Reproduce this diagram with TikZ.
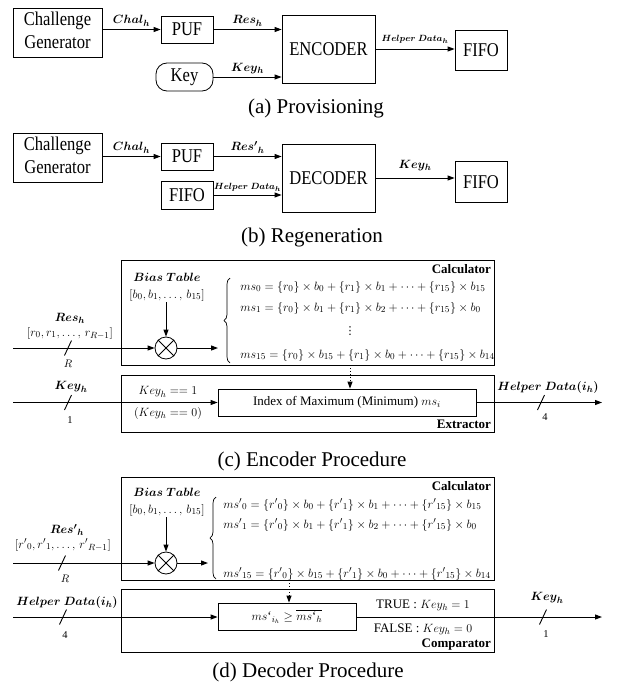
\documentclass[tikz,border=0pt]{standalone}
\usepackage{amsmath}
\usepackage{bm}
\usepackage{graphicx}
\usepackage{fontspec}
\setmainfont{Liberation Serif}
\newfontfamily\symfont{DejaVu Sans}
\usetikzlibrary{arrows.meta,decorations.pathreplacing}
% narrow the lettering of the block labels a little
\newcommand\sqz[1]{\scalebox{0.85}[1]{#1}}
\begin{document}
\begin{tikzpicture}[x=1pt,y=-1pt,line width=0.8pt,
  box/.style={draw,line width=0.8pt,inner sep=0pt,align=center,font=\fontsize{19.5}{22.5}\selectfont},
  framebox/.style={draw,line width=0.8pt,inner sep=0pt},
  inbox/.style={draw,line width=0.8pt,inner sep=0pt,font=\fontsize{13}{15}\selectfont},
  arr/.style={-{Triangle[length=7pt,width=5pt]},line width=1pt},
  dotarr/.style={arr,dotted},
  lab/.style={font=\fontsize{13}{15}\selectfont,inner sep=1pt},
  tinylab/.style={font=\fontsize{9.5}{11}\selectfont,inner sep=1pt},
  sml/.style={font=\fontsize{10.5}{12}\selectfont,inner sep=1pt},
  captxt/.style={font=\fontsize{21}{24}\selectfont},
  eq/.style={font=\fontsize{13}{15}\selectfont,anchor=west,inner sep=0pt},
  ttl/.style={font=\bfseries\fontsize{13}{15}\selectfont,inner sep=0pt},
  bracedec/.style={decorate,decoration={brace,amplitude=6pt},line width=0.7pt},
  busmark/.pic={\draw[line width=0.9pt] (-3.5,7.5) -- (3.5,-7.5);}
]
\useasboundingbox (0,0) rectangle (616,696);

% ---------------- (a) provisioning ----------------
\node[box,minimum width=89pt,minimum height=49pt] (cgA) at (57.5,32.5)
  {\sqz{\begin{tabular}{@{}c@{}}Challenge\\Generator\end{tabular}}};
\node[box,minimum width=52pt,minimum height=27pt] (pufA) at (187,29.5) {\sqz{PUF}};
\node[box,minimum width=57pt,minimum height=28pt,rounded corners=11pt] (keyA) at (184.5,77) {\sqz{Key}};
\node[box,minimum width=93pt,minimum height=68pt] (encA) at (328.5,49) {\sqz{ENCODER}};
\node[box,minimum width=52pt,minimum height=40pt] (fifoA) at (481,50) {\sqz{FIFO}};

\draw[arr] (cgA.east |- pufA.west) -- node[lab,above=2pt] {$\bm{Chal_h}$} (pufA.west);
\draw[arr] (pufA.east) -- node[lab,above=2pt] {$\bm{Res_h}$} (pufA.east -| encA.west);
\draw[arr] (keyA.east) -- node[lab,above=2pt] {$\bm{Key_h}$} (keyA.east -| encA.west);
\draw[arr] (encA.east) -- node[tinylab,above=4pt] {$\bm{Helper\ Data_h}$} (encA.east -| fifoA.west);

\node[captxt] (capA) at (316,108) {(a) Provisioning};

% ---------------- (b) regeneration ----------------
\node[box,minimum width=89pt,minimum height=49pt] (cgB) at (57.5,157.5)
  {\sqz{\begin{tabular}{@{}c@{}}Challenge\\Generator\end{tabular}}};
\node[box,minimum width=52pt,minimum height=27pt] (pufB) at (187,156.5) {\sqz{PUF}};
\node[box,minimum width=52pt,minimum height=28pt] (fifoB) at (187,195) {\sqz{FIFO}};
\node[box,minimum width=93pt,minimum height=68pt] (decB) at (328.5,178) {\sqz{DECODER}};
\node[box,minimum width=52pt,minimum height=41pt] (fifoC) at (481,182) {\sqz{FIFO}};

\draw[arr] (cgB.east |- pufB.west) -- node[lab,above=2pt] {$\bm{Chal_h}$} (pufB.west);
\draw[arr] (pufB.east) -- node[lab,above=2pt] {$\bm{{Res'}_h}$} (pufB.east -| decB.west);
\draw[arr] (fifoB.east) -- node[tinylab,above=2pt] {$\bm{Helper\ Data_h}$} (fifoB.east -| decB.west);
\draw[arr] (decB.east) -- node[lab,above=6pt] {$\bm{Key_h}$} (decB.east -| fifoC.west);

\node[captxt] (capB) at (312,237) {(b) Regeneration};

% ---------------- (c) encoder procedure ----------------
\node[framebox,minimum width=373pt,minimum height=105pt] (calcC) at (307.5,312.5) {};
\node[ttl,anchor=north east] (calcCt) at ([xshift=-3pt,yshift=-4pt]calcC.north east) {Calculator};
\node[lab] (btC) at (167,277) {$\bm{Bias\ Table}$};
\node[lab] (blC) at (167,295) {$[b_0,b_1,\ldots,\,b_{15}]$};
\node[circle,draw,line width=0.8pt,minimum size=22pt,inner sep=0pt] (otC) at (166,348) {};
\draw (otC.45) -- (otC.225) (otC.135) -- (otC.315);
\draw[arr] (otC.north |- blC.south) -- (otC.north);

\coordinate (inR) at (13,348);
\draw[arr] (inR) -- (otC.west);
\pic at (68,348) {busmark};
\node[lab] (resC) at (70,318) {$\bm{Res_h}$};
\node[lab] (rlC) at (70,333) {$[r_0,r_1,\ldots,\,r_{R-1}]$};
\node[sml] (rC) at (68,364) {$R$};

\coordinate (brC) at (218,348);
\draw[arr] (otC.east) -- (brC);
\draw[bracedec] (230,363) -- (230,278);
\node[eq] (e0C) at (240,287) {$ms_0=\{r_0\}\times b_0+\{r_1\}\times b_1+\cdots+\{r_{15}\}\times b_{15}$};
\node[eq] (e1C) at (240,308) {$ms_1=\{r_0\}\times b_1+\{r_1\}\times b_2+\cdots+\{r_{15}\}\times b_0$};
\node[inner sep=0pt,font=\symfont\fontsize{11}{13}\selectfont] (vdC) at (350,331) {⋮};
\node[eq] (e2C) at (240,355) {$ms_{15}=\{r_0\}\times b_{15}+\{r_1\}\times b_0+\cdots+\{r_{15}\}\times b_{14}$};

\node[framebox,minimum width=373pt,minimum height=57pt] (extC) at (307.5,403.5) {};
\node[ttl,anchor=south east] (extCt) at ([xshift=-3pt,yshift=3pt]extC.south east) {Extractor};
\node[inbox,minimum width=258pt,minimum height=27pt] (idxC) at (347,402.5) {Index of Maximum (Minimum) $ms_i$};
\coordinate (dotC) at (350,0);
\draw[dotarr] (calcC.south -| dotC) -- (idxC.north -| dotC);

\coordinate (inK) at (13,402.5);
\draw[arr] (inK) -- (inK -| idxC.west);
\pic at (68,402.5) {busmark};
\node[lab] (keyC) at (71,387) {$\bm{Key_h}$};
\node[sml] (oneC) at (70,420) {1};
\node[lab] (k1C) at (168,392) {$Key_h==1$};
\node[lab] (k0C) at (168,413) {$(Key_h==0)$};

\coordinate (outC) at (602,402.5);
\draw[arr] (idxC.east) -- (outC);
\pic at (541,402.5) {busmark};
\node[lab] (hdC) at (548,387) {$\bm{Helper\ Data(i_h)}$};
\node[sml] (fourC) at (545,417) {4};

\node[captxt] (capC) at (312,461) {(c) Encoder Procedure};

% ---------------- (d) decoder procedure ----------------
\node[framebox,minimum width=373pt,minimum height=103pt] (calcD) at (307.5,528.5) {};
\node[ttl,anchor=north east] (calcDt) at ([xshift=-3pt,yshift=-4pt]calcD.north east) {Calculator};
\node[lab] (btD) at (167,492) {$\bm{Bias\ Table}$};
\node[lab] (blD) at (167,510) {$[b_0,b_1,\ldots,\,b_{15}]$};
\node[circle,draw,line width=0.8pt,minimum size=22pt,inner sep=0pt] (otD) at (166,563) {};
\draw (otD.45) -- (otD.225) (otD.135) -- (otD.315);
\draw[arr] (otD.north |- blD.south) -- (otD.north);

\coordinate (inRD) at (13,563);
\draw[arr] (inRD) -- (otD.west);
\pic at (62,563) {busmark};
\node[lab] (resD) at (67,530) {$\bm{{Res'}_h}$};
\node[lab] (rlD) at (63,545) {$[{r'}_0,{r'}_1,\ldots,\,{r'}_{R-1}]$};
\node[sml] (rD) at (65,579) {$R$};

\coordinate (brD) at (208,563);
\draw[arr] (otD.east) -- (brD);
\draw[bracedec] (216,579) -- (216,497);
\node[eq] (e0D) at (223,505) {${ms'}_0=\{{r'}_0\}\times b_0+\{{r'}_1\}\times b_1+\cdots+\{{r'}_{15}\}\times b_{15}$};
\node[eq] (e1D) at (223,525) {${ms'}_1=\{{r'}_0\}\times b_1+\{{r'}_1\}\times b_2+\cdots+\{{r'}_{15}\}\times b_0$};
\node[eq] (e2D) at (223,574) {${ms'}_{15}=\{{r'}_0\}\times b_{15}+\{{r'}_1\}\times b_0+\cdots+\{{r'}_{15}\}\times b_{14}$};

\node[framebox,minimum width=373pt,minimum height=63pt] (cmpD) at (307.5,620.5) {};
\node[ttl,anchor=south east] (cmpDt) at ([xshift=-3pt,yshift=2pt]cmpD.south east) {Comparator};
\node[inbox,minimum width=138pt,minimum height=27pt] (inD) at (287,616.5) {${ms`}_{i_h}\geq\overline{{ms`}_h}$};
\coordinate (dotD) at (289,0);
\draw[dotarr] (calcD.south -| dotD) -- (inD.north -| dotD);

\coordinate (inH) at (13,617);
\draw[arr] (inH) -- (inH -| inD.west);
\pic at (63,617) {busmark};
\node[lab] (hdD) at (67,602) {$\bm{Helper\ Data(i_h)}$};
\node[sml] (fourD) at (65,635) {4};

\coordinate (outD) at (602,617);
\draw[arr] (inD.east |- outD) -- (outD);
\pic at (543,617) {busmark};
\node[lab] (keyD) at (547,598) {$\bm{Key_h}$};
\node[sml] (oneD) at (546,634) {1};
\node[lab] (trD) at (423,605) {TRUE : $Key_h=1$};
\node[lab] (faD) at (423,629) {FALSE : $Key_h=0$};

\node[captxt] (capD) at (308,672) {(d) Decoder Procedure};
\end{tikzpicture}
\end{document}
